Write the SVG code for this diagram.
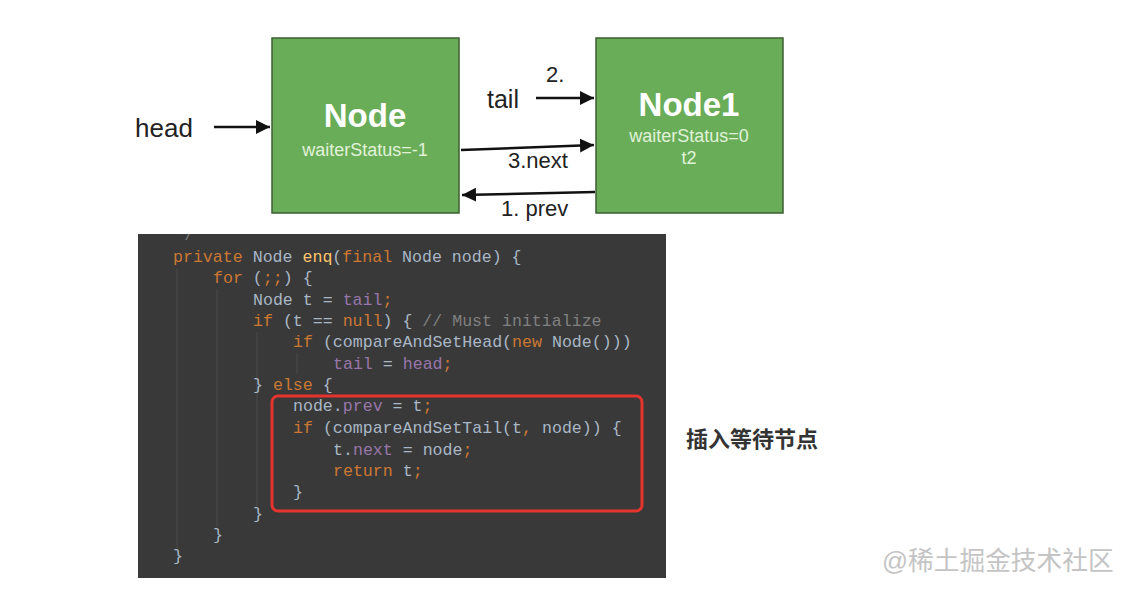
<svg xmlns="http://www.w3.org/2000/svg" width="1134" height="590" viewBox="0 0 1134 590">
<defs>
<marker id="ah" viewBox="0 0 10 10" refX="10" refY="5" markerWidth="14" markerHeight="14" markerUnits="userSpaceOnUse" orient="auto">
<path d="M0,0 L10,5 L0,10 z" fill="#111"/>
</marker>
<clipPath id="panelClip"><rect x="138" y="234" width="528" height="344"/></clipPath>
<style>
.box{fill:#6aad59;stroke:#3d5f33;stroke-width:1.5}
.title{font-family:"Liberation Sans",Arial,sans-serif;font-weight:bold;font-size:33px;fill:#fff;text-anchor:middle}
.sub{font-family:"Liberation Sans",Arial,sans-serif;font-size:18px;fill:#e0f2d8;text-anchor:middle}
.lbl{font-family:"Liberation Sans",Arial,sans-serif;font-size:22px;fill:#222}
.big{font-size:26px}
.mid{font-size:25px}
.conn{stroke:#111;stroke-width:2.5;fill:none;marker-end:url(#ah)}
.code{font-family:"Liberation Mono","DejaVu Sans Mono",monospace;font-size:16.6px;fill:#a9b7c6;white-space:pre}
.k{fill:#cc7832}
.f{fill:#9876aa}
.m{fill:#ffc66d}
.c{fill:#808080}
.guide{stroke:#4a4a4a;stroke-width:1}
</style>
</defs>
<rect width="1134" height="590" fill="#fff"/>

<g id="node-node">
<rect class="box" x="272" y="38" width="187" height="175"/>
<text class="title" x="365" y="127">Node</text>
<text class="sub" x="365" y="156">waiterStatus=-1</text>
</g>

<g id="node-node1">
<rect class="box" x="596" y="38" width="187" height="175"/>
<text class="title" x="689" y="116">Node1</text>
<text class="sub" x="689" y="142">waiterStatus=0</text>
<text class="sub" x="689" y="164">t2</text>
</g>

<g id="label-head"><text class="lbl big" x="135" y="137">head</text></g>
<g id="label-tail"><text class="lbl mid" x="487" y="108">tail</text></g>

<g id="connectors">
<line class="conn" x1="214" y1="127" x2="270" y2="127"/>
<line class="conn" x1="536" y1="98" x2="594" y2="98"/>
<line class="conn" x1="461" y1="150" x2="594" y2="145"/>
<line class="conn" x1="595" y1="192" x2="462" y2="195"/>
<text class="lbl" x="546" y="82">2.</text>
<text class="lbl" x="508" y="168">3.next</text>
<text class="lbl" x="501" y="216">1. prev</text>
</g>

<g id="code-panel">
<rect x="138" y="234" width="528" height="344" fill="#393939"/>
<g clip-path="url(#panelClip)">
<text class="code c" x="176" y="240" style="font-size:14px">*/</text>
</g>
<line class="guide" x1="177" y1="268" x2="177" y2="548"/>
<line class="guide" x1="217" y1="289" x2="217" y2="527"/>
<line class="guide" x1="257" y1="332" x2="257" y2="506"/>
<line class="guide" x1="297" y1="353" x2="297" y2="374"/>
<text class="code" x="173" y="262"><tspan class="k">private </tspan>Node <tspan class="m">enq</tspan>(<tspan class="k">final </tspan>Node node) {</text>
<text class="code" x="213" y="283"><tspan class="k">for </tspan>(<tspan class="k">;;</tspan>) {</text>
<text class="code" x="253" y="305">Node t = <tspan class="f">tail</tspan><tspan class="k">;</tspan></text>
<text class="code" x="253" y="326"><tspan class="k">if </tspan>(t == <tspan class="k">null</tspan>) { <tspan class="c">// Must initialize</tspan></text>
<text class="code" x="293" y="347"><tspan class="k">if </tspan>(compareAndSetHead(<tspan class="k">new </tspan>Node()))</text>
<text class="code" x="333" y="369"><tspan class="f">tail</tspan> = <tspan class="f">head</tspan><tspan class="k">;</tspan></text>
<text class="code" x="253" y="390">} <tspan class="k">else </tspan>{</text>
<text class="code" x="293" y="411">node.<tspan class="f">prev</tspan> = t<tspan class="k">;</tspan></text>
<text class="code" x="293" y="433"><tspan class="k">if </tspan>(compareAndSetTail(t<tspan class="k">, </tspan>node)) {</text>
<text class="code" x="333" y="455">t.<tspan class="f">next</tspan> = node<tspan class="k">;</tspan></text>
<text class="code" x="333" y="476"><tspan class="k">return </tspan>t<tspan class="k">;</tspan></text>
<text class="code" x="293" y="497">}</text>
<text class="code" x="253" y="519">}</text>
<text class="code" x="213" y="540">}</text>
<text class="code" x="173" y="561">}</text>
<rect x="272" y="396" width="370" height="115" rx="6" fill="none" stroke="#e5332d" stroke-width="3"/>
</g>

<g id="label-insert">
<text x="686" y="447" font-family="'Liberation Sans','Noto Sans CJK SC',sans-serif" font-size="22" font-weight="bold" fill="#333">插入等待节点</text>
</g>

<g id="watermark">
<text x="882" y="570" font-family="'Liberation Sans','Noto Sans CJK SC',sans-serif" font-size="25.7" fill="#c4c4c4">@稀土掘金技术社区</text>
</g>
</svg>
